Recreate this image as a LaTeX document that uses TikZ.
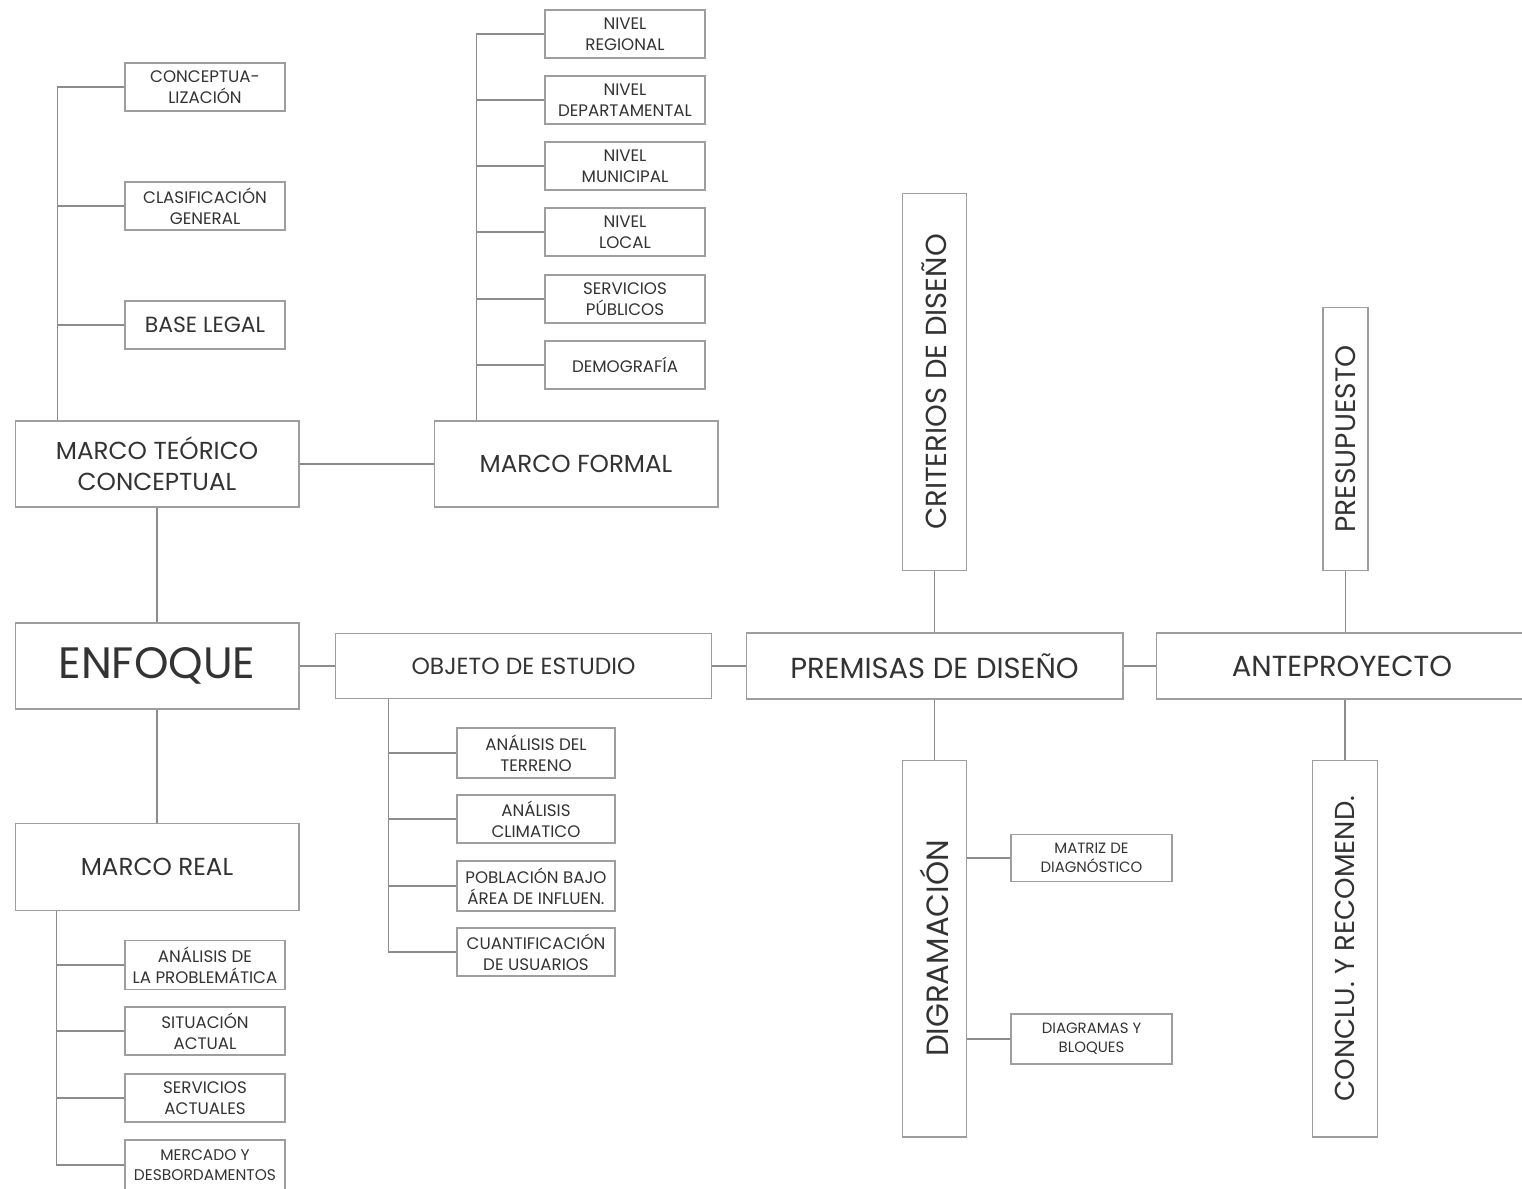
\documentclass[tikz,border=0pt]{standalone}
\usepackage{fontspec}
\usepackage{graphicx}
\setmainfont{Poppins}
\begin{document}
\begin{tikzpicture}[x=0.02cm,y=-0.02cm,
  box/.style={draw=black!38,line width=0.6pt,text=black!80,inner sep=0pt,align=center},
  sub/.style={box,minimum width=3.2cm,minimum height=0.96cm,font=\fontsize{9.5}{12}\selectfont},
  frame/.style={box,minimum width=5.68cm,minimum height=1.72cm,font=\fontsize{14}{17.5}\selectfont},
  stage/.style={box,minimum width=7.54cm,minimum height=1.3cm,font=\fontsize{16.5}{19}\selectfont},
  upright/.style={box,minimum width=1.28cm,minimum height=7.54cm,font=\fontsize{16.5}{19}\selectfont},
  link/.style={draw=black!45,line width=0.6pt}]
\useasboundingbox (0,0) rectangle (1522,1188);
\node[sub] (concep) at (205,87) {CONCEPTUA-\\LIZACIÓN};
\node[sub] (clasif) at (205,206) {CLASIFICACIÓN\\GENERAL};
\node[sub,font=\fontsize{12.5}{15}\selectfont] (legal) at (205,325) {BASE LEGAL};
\node[frame] (teorico) at (157,464) {MARCO TEÓRICO\\CONCEPTUAL};
\node[frame] (formal) at (576,464) {MARCO FORMAL};
\node[sub] (regional) at (625,34) {NIVEL\\REGIONAL};
\node[sub] (depto) at (625,100) {NIVEL\\DEPARTAMENTAL};
\node[sub] (munic) at (625,166) {NIVEL\\MUNICIPAL};
\node[sub] (local) at (625,232) {NIVEL\\LOCAL};
\node[sub] (servpub) at (625,299) {SERVICIOS\\PÚBLICOS};
\node[sub] (demog) at (625,365) {DEMOGRAFÍA};
\node[frame,font=\fontsize{25}{28}\selectfont] (enfoque) at (157,666) {ENFOQUE};
\node[frame,minimum height=1.74cm] (real) at (157,867) {MARCO REAL};
\node[sub,minimum height=0.98cm] (problem) at (205,965) {ANÁLISIS DE\\LA PROBLEMÁTICA};
\node[sub] (situac) at (205,1031) {SITUACIÓN\\ACTUAL};
\node[sub] (servact) at (205,1098) {SERVICIOS\\ACTUALES};
\node[sub,minimum height=1cm,font=\fontsize{8.8}{11.5}\selectfont] (mercado) at (205,1165) {MERCADO Y\\DESBORDAMENTOS};
\node[stage,font=\fontsize{13.3}{15}\selectfont] (objeto) at (523.5,666) {OBJETO DE ESTUDIO};
\node[sub,minimum width=3.16cm,minimum height=1cm] (terreno) at (536,753) {ANÁLISIS DEL\\TERRENO};
\node[sub,minimum width=3.16cm] (clima) at (536,819) {ANÁLISIS\\CLIMATICO};
\node[sub,minimum width=3.16cm,minimum height=1cm] (poblac) at (536,886) {POBLACIÓN BAJO\\ÁREA DE INFLUEN.};
\node[sub,minimum width=3.16cm] (usuar) at (536,952) {CUANTIFICACIÓN\\DE USUARIOS};
\node[stage,minimum height=1.32cm] (premisas) at (934.5,666) {PREMISAS DE DISEÑO};
\node[stage,minimum width=7.44cm,minimum height=1.32cm] (ante) at (1342,666) {ANTEPROYECTO};
\node[upright] (criterios) at (934.5,382) {\rotatebox{90}{CRITERIOS DE DISEÑO}};
\node[upright,font=\fontsize{17.5}{20}\selectfont] (digram) at (934.5,948.5) {\rotatebox{90}{DIGRAMACIÓN}};
\node[upright,minimum width=0.9cm,minimum height=5.26cm,font=\fontsize{16}{19}\selectfont] (presup) at (1345.5,439) {\rotatebox{90}{PRESUPUESTO}};
\node[upright,minimum width=1.3cm,font=\fontsize{15.6}{19}\selectfont] (conclu) at (1345,948.5) {\rotatebox{90}{CONCLU. Y RECOMEND.}};
\node[sub,minimum width=3.22cm,minimum height=0.94cm,font=\fontsize{8.5}{11}\selectfont] (matriz) at (1091.5,858) {MATRIZ DE\\DIAGNÓSTICO};
\node[sub,minimum width=3.22cm,minimum height=1cm,font=\fontsize{8.5}{11}\selectfont] (bloques) at (1091.5,1039) {DIAGRAMAS Y\\BLOQUES};
\draw[link] (teorico) -- (formal);
\draw[link] (teorico) -- (enfoque);
\draw[link] (enfoque) -- (real);
\draw[link] (enfoque) -- (objeto);
\draw[link] (objeto) -- (premisas);
\draw[link] (premisas) -- (ante);
\draw[link] (criterios) -- (premisas);
\draw[link] (premisas) -- (digram);
\draw[link] (presup.south) -- (presup.south |- ante.north);
\draw[link] (ante.south -| conclu.north) -- (conclu.north);
\draw[link] (digram.east |- matriz.west) -- (matriz.west);
\draw[link] (digram.east |- bloques.west) -- (bloques.west);
\path (teorico.north west) ++(43,0) coordinate (tt);
\foreach \b in {concep,clasif,legal} \draw[link] (tt) |- (\b.west);
\path (formal.north west) ++(43,0) coordinate (tf);
\foreach \b in {regional,depto,munic,local,servpub,demog} \draw[link] (tf) |- (\b.west);
\path (real.south west) ++(42,0) coordinate (tr);
\foreach \b in {problem,situac,servact,mercado} \draw[link] (tr) |- (\b.west);
\path (objeto.south west) ++(54,0) coordinate (to);
\foreach \b in {terreno,clima,poblac,usuar} \draw[link] (to) |- (\b.west);
\end{tikzpicture}
\end{document}
